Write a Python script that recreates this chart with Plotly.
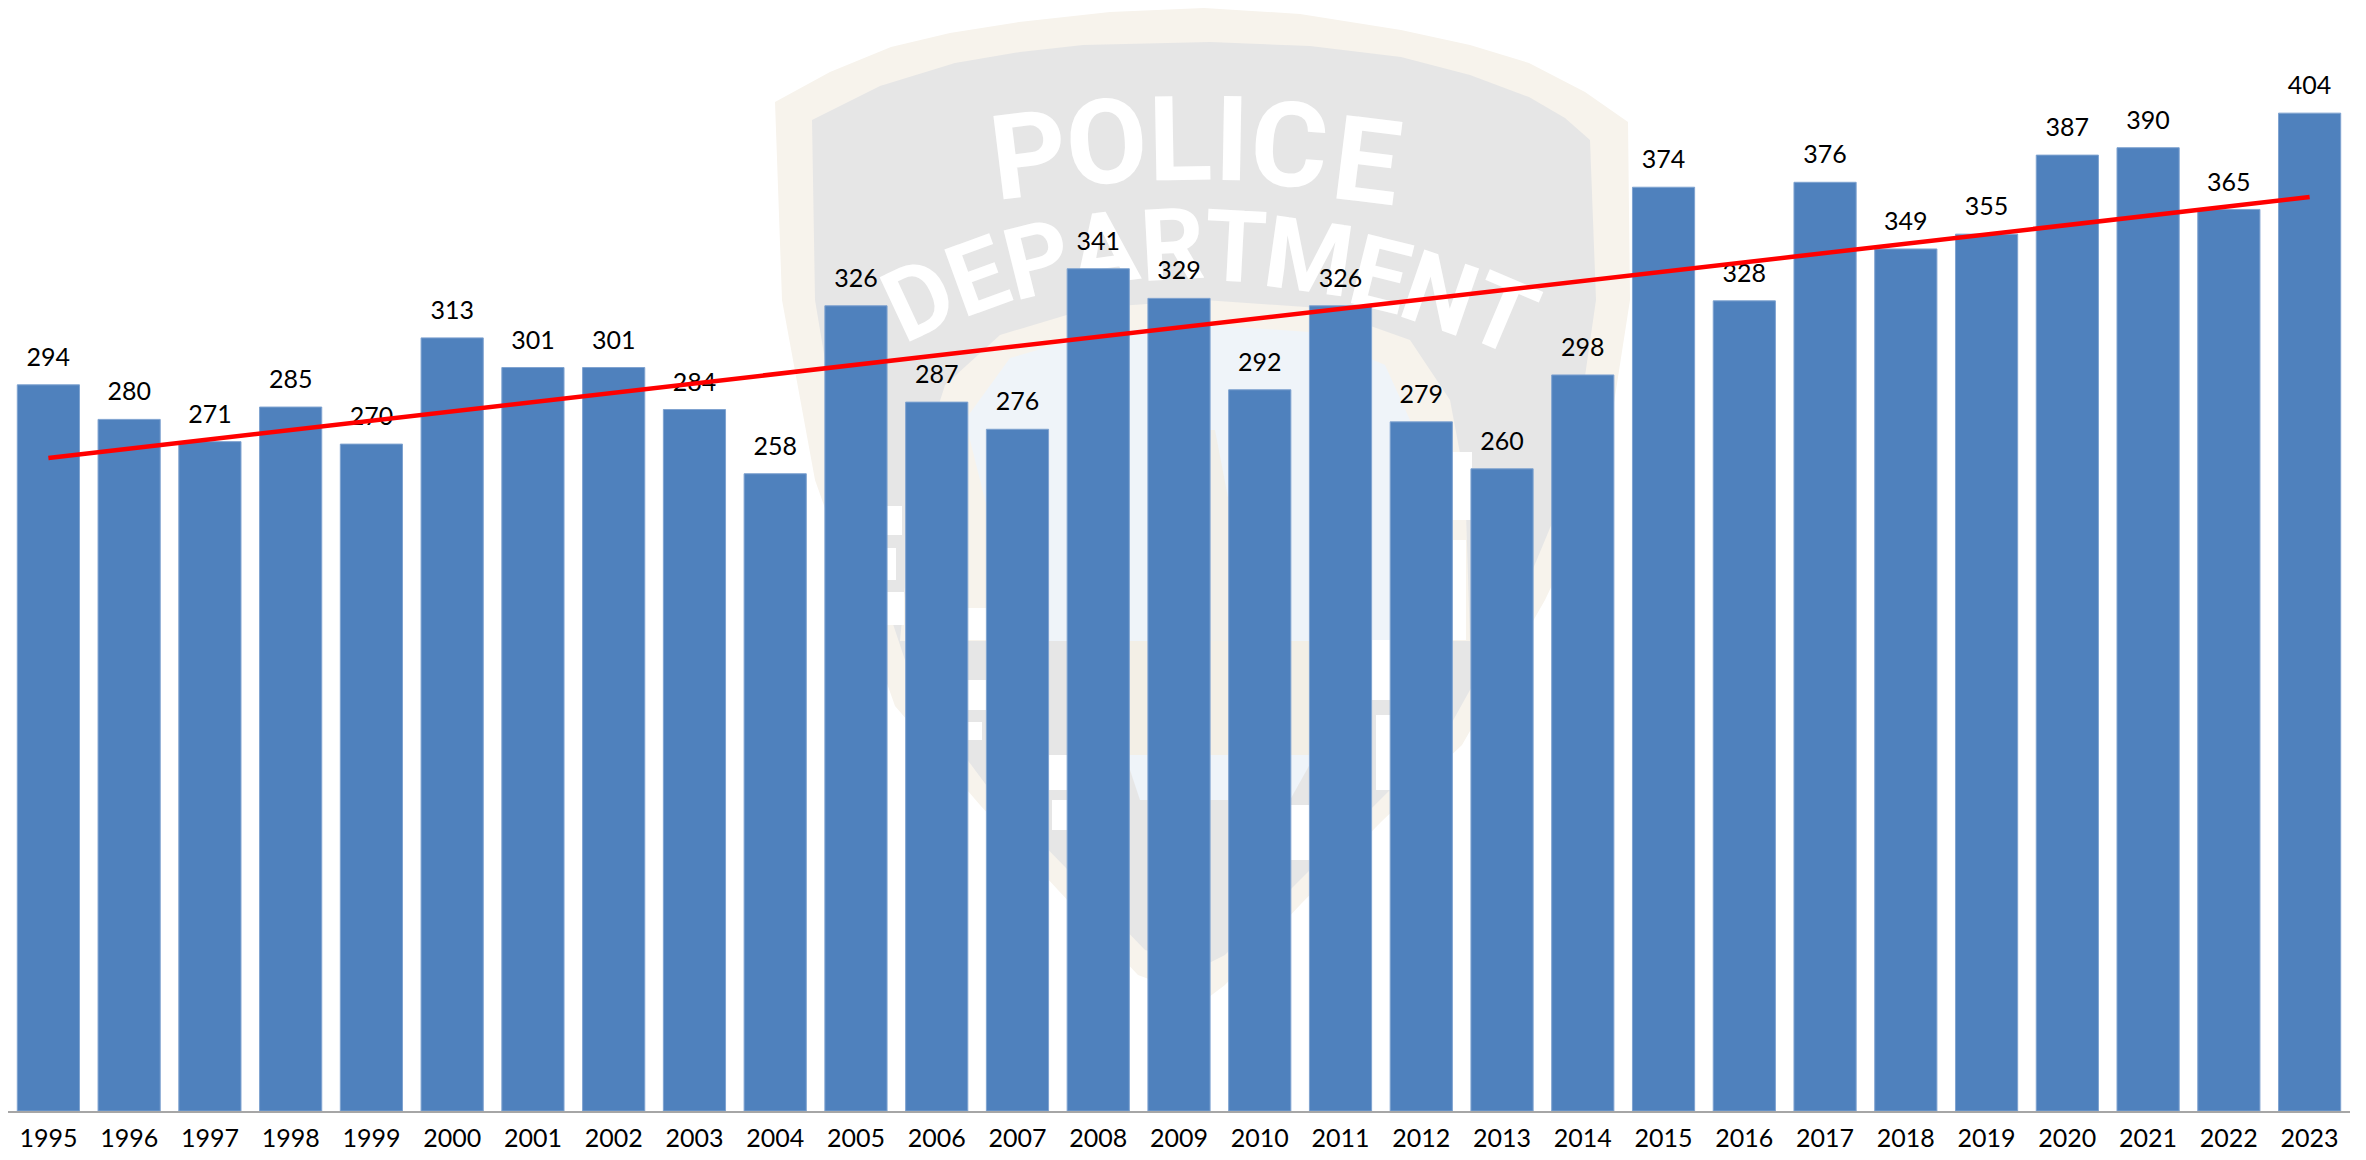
import plotly.graph_objects as go

years = [str(y) for y in range(1995, 2024)]
values = [294, 280, 271, 285, 270, 313, 301, 301, 284, 258, 326, 287, 276, 341, 329,
          292, 326, 279, 260, 298, 374, 328, 376, 349, 355, 387, 390, 365, 404]
trend_years = ["1995", "2023"]
trend_values = [264.4, 370.0]

W, H = 2366, 1160
ML, MR, MT, MB = 8, 16, 0, 49
PW, PH = W - ML - MR, H - MT - MB
LABEL_OFFSET = 10.2
FONT = "Lato, Carlito, Calibri, sans-serif"
WM_FONT = "Roboto, Liberation Sans, sans-serif"


def px(x, y):
    return (x - ML) / PW, 1 - (y - MT) / PH


def poly(points, fill):
    d = ""
    for i, (x, y) in enumerate(points):
        a, b = px(x, y)
        d += f"{'M' if i == 0 else 'L'}{a:.5f},{b:.5f} "
    return dict(type="path", path=d + "Z", xref="paper", yref="paper", layer="below",
                fillcolor=fill, line=dict(width=0))


outer = [(775, 102), (830, 72), (891, 47), (950, 33), (1019, 22), (1110, 12), (1204, 8), (1300, 14),
         (1401, 30), (1470, 45), (1529, 63), (1585, 92), (1628, 122), (1630, 300), (1602, 480),
         (1545, 600), (1462, 745), (1381, 822), (1300, 905), (1225, 985), (1205, 1000), (1138, 975),
         (1058, 890), (980, 805), (895, 706), (815, 480), (782, 300)]
inner = [(812, 120), (880, 86), (955, 63), (1020, 52), (1083, 45), (1210, 42), (1310, 46), (1401, 57),
         (1470, 75), (1529, 97), (1565, 118), (1590, 140), (1596, 300), (1570, 480), (1520, 600),
         (1445, 735), (1368, 812), (1290, 890), (1225, 955), (1205, 965), (1145, 950), (1068, 870),
         (990, 790), (915, 690), (845, 480), (815, 300)]
cream_arc = [(900, 641), (915, 480), (945, 385), (1000, 335), (1090, 308), (1204, 300), (1320, 308),
             (1410, 340), (1450, 400), (1465, 480), (1470, 641)]
blue_dome = [(1035, 641), (985, 500), (965, 420), (1010, 358), (1100, 332), (1204, 325), (1310, 332),
             (1385, 365), (1410, 420), (1412, 480), (1395, 641)]
center_cream = [(1125, 641), (1315, 641), (1315, 755), (1125, 755)]
center_blue = [(1125, 755), (1315, 755), (1290, 800), (1140, 800)]
column = [(1195, 430), (1215, 430), (1240, 560), (1248, 641), (1165, 641), (1170, 560)]
white_bits = [
    [(884, 506), (902, 506), (902, 535), (884, 535)],
    [(884, 548), (896, 548), (896, 580), (884, 580)],
    [(884, 592), (904, 592), (904, 625), (884, 625)],
    [(966, 608), (988, 608), (988, 640), (966, 640)],
    [(966, 680), (986, 680), (986, 710), (966, 710)],
    [(966, 722), (982, 722), (982, 740), (966, 740)],
    [(1048, 755), (1068, 755), (1068, 790), (1048, 790)],
    [(1052, 800), (1068, 800), (1068, 830), (1052, 830)],
    [(1290, 805), (1310, 805), (1310, 860), (1290, 860)],
    [(1372, 640), (1392, 640), (1392, 700), (1372, 700)],
    [(1376, 715), (1392, 715), (1392, 790), (1376, 790)],
    [(1452, 452), (1472, 452), (1472, 520), (1452, 520)],
    [(1452, 540), (1466, 540), (1466, 640), (1452, 640)],
]

police = [("P", 1028, 147, -7), ("O", 1106, 134, -4), ("L", 1180, 131, -1), ("I", 1232, 131, 1),
          ("C", 1290, 137, 4), ("E", 1368, 153, 7)]
department = [("D", 916, 293, -25), ("E", 975, 270, -20), ("P", 1036, 253, -14), ("A", 1103, 242, -8),
              ("R", 1172, 238, -3), ("T", 1236, 240, 3), ("M", 1310, 250, 8), ("E", 1382, 268, 14),
              ("N", 1442, 287, 19), ("T", 1505, 308, 23)]

shapes = [poly(outer, "#F7F3EC"), poly(inner, "#E6E6E6"), poly(cream_arc, "#F7F3EC"),
          poly(blue_dome, "#EFF4F9"), poly(center_cream, "#F3EFE6"), poly(center_blue, "#EFF4F9"),
          poly(column, "#F1EFE9")]
shapes += [poly(p, "#FFFFFF") for p in white_bits]
for letters, size in ((police, 118), (department, 100)):
    for ch, cx, cy, ang in letters:
        a0, b0 = px(cx - 40, cy + 40)
        a1, b1 = px(cx + 40, cy - 40)
        shapes.append(dict(type="rect", xref="paper", yref="paper", x0=a0, x1=a1, y0=b0, y1=b1,
                           layer="below", fillcolor="rgba(0,0,0,0)", line=dict(width=0),
                           label=dict(text=f"<b>{ch}</b>", textangle=ang, textposition="middle center",
                                      font=dict(family=WM_FONT, size=size, color="#FFFFFF"))))

fig = go.Figure()
fig.add_bar(x=years, y=values, marker=dict(color="#4F81BD", line=dict(color="#7FA3D0", width=1)),
            width=0.77, hoverinfo="skip", showlegend=False)
fig.add_scatter(x=years, y=[v + LABEL_OFFSET for v in values], text=[str(v) for v in values],
                mode="text", textposition="middle center", cliponaxis=False,
                textfont=dict(family=FONT, size=25, color="#000000"), hoverinfo="skip", showlegend=False)
fig.add_scatter(x=trend_years, y=trend_values, mode="lines", line=dict(color="#FF0000", width=4.5),
                hoverinfo="skip", showlegend=False)

fig.update_layout(
    width=W, height=H, margin=dict(l=ML, r=MR, t=MT, b=MB, pad=0), autosize=False,
    paper_bgcolor="#FFFFFF", plot_bgcolor="rgba(0,0,0,0)", shapes=shapes, showlegend=False,
    xaxis=dict(type="category", categoryorder="array", categoryarray=years, range=[-0.5, 28.5],
               showgrid=False, zeroline=False, showline=True, linecolor="#A6A6A6", linewidth=2,
               ticks="outside", ticklen=4, tickcolor="rgba(0,0,0,0)", tickangle=0,
               tickfont=dict(family=FONT, size=25, color="#000000"), automargin=False),
    yaxis=dict(range=[0, 449.8], visible=False, fixedrange=True, automargin=False),
)
fig.write_html("out.html", config={"displayModeBar": False},
               post_script="document.body.style.margin='0';document.documentElement.style.overflow='hidden';")
